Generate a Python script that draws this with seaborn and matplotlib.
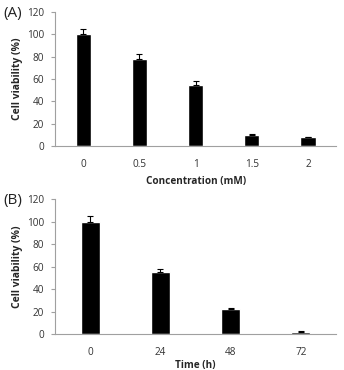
import numpy as np
import pandas as pd
import matplotlib
matplotlib.use('Agg')
import matplotlib.pyplot as plt
import seaborn as sns

# panel A: concentration series
conc_labels = ['0', '0.5', '1', '1.5', '2']
conc_viability = [100, 78, 55, 10, 8]
conc_err = [5, 4, 3, 1, 0.6]

# panel B: time series
time_labels = ['0', '24', '48', '72']
time_viability = [100, 55, 22, 2]
time_err = [5, 3, 1.5, 0.5]

sns.set_style('white')
plt.rcParams['font.family'] = ['Open Sans', 'DejaVu Sans']

fig = plt.figure(figsize=(3.44, 3.70), dpi=100)
axA = fig.add_axes([0.160, 0.605, 0.817, 0.363])
axB = fig.add_axes([0.160, 0.097, 0.817, 0.364])


def panel(ax, labels, vals, errs, xlabel, tag, xpad):
    df = pd.DataFrame({'x': labels, 'y': vals})
    sns.barplot(data=df, x='x', y='y', color='black', width=0.27,
                saturation=1, ax=ax)
    ax.errorbar(np.arange(len(vals)), vals,
                yerr=[np.zeros(len(errs)), errs], fmt='none',
                ecolor='black', elinewidth=0.8, capsize=2.5, capthick=0.8)
    ax.set_ylim(0, 120)
    ax.set_yticks(range(0, 121, 20))
    ax.set_xlim(-0.5, len(vals) - 0.5)
    for s in ['top', 'right']:
        ax.spines[s].set_visible(False)
    for s in ['left', 'bottom']:
        ax.spines[s].set_color('#a0a0a0')
        ax.spines[s].set_linewidth(0.8)
    ax.tick_params(axis='y', left=True, length=3, width=0.8, color='#a0a0a0',
                   labelsize=7.2, labelcolor='#333333', pad=5)
    ax.tick_params(axis='x', bottom=False, labelsize=7.2,
                   labelcolor='#333333', pad=6)
    ax.set_ylabel('Cell viability (%)', fontsize=7.5, fontweight='bold',
                  labelpad=3)
    ax.set_xlabel(xlabel, fontsize=7.2, fontweight='bold', labelpad=xpad)
    ax.text(-0.15, 0.99, tag, transform=ax.transAxes, fontsize=11,
            ha='center', va='center', color='#222222')


panel(axA, conc_labels, conc_viability, conc_err, 'Concentration (mM)', '(A)', 4)
panel(axB, time_labels, time_viability, time_err, 'Time (h)', '(B)', 1)

fig.savefig('out.png', dpi=100)
